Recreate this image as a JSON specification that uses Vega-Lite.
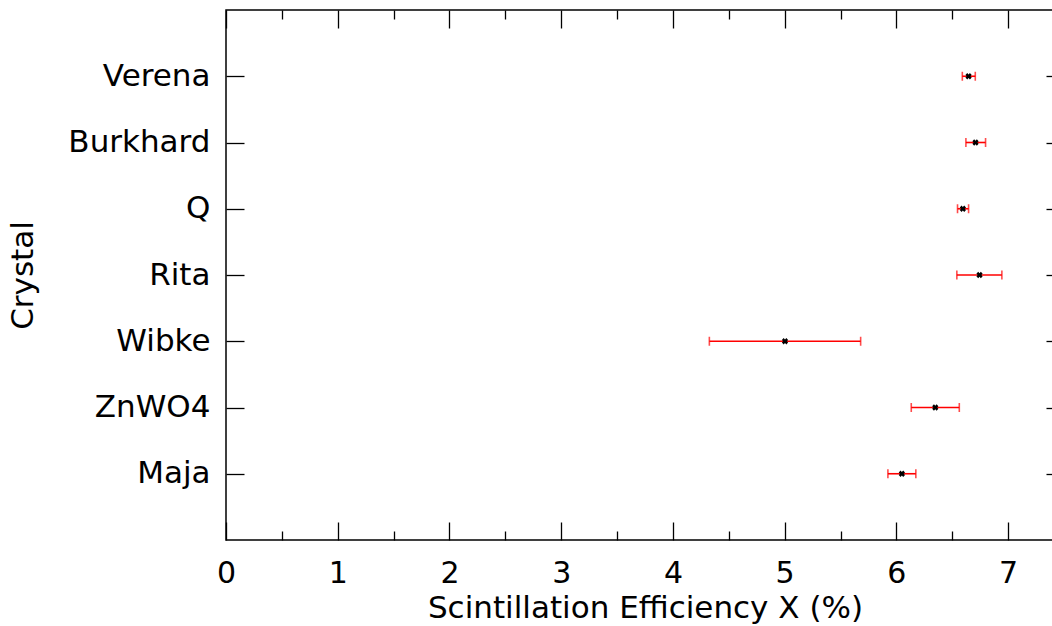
{
  "$schema": "https://vega.github.io/schema/vega-lite/v6.json",
  "autosize": "none",
  "width": 838,
  "height": 530,
  "padding": {"left": 226, "top": 10, "right": 0, "bottom": 86},
  "background": "white",
  "config": {
    "font": "DejaVu Sans",
    "view": {"stroke": "black", "strokeWidth": 1.5},
    "axis": {"grid": false, "domain": false, "tickColor": "black", "tickWidth": 1.3, "labelColor": "black", "titleColor": "black", "labelFont": "DejaVu Sans", "titleFont": "DejaVu Sans", "titleFontWeight": "normal"}
  },
  "data": {"values": [
    {"crystal": "Verena", "x": 6.646, "lo": 6.59, "hi": 6.706},
    {"crystal": "Burkhard", "x": 6.708, "lo": 6.622, "hi": 6.798},
    {"crystal": "Q", "x": 6.595, "lo": 6.547, "hi": 6.646},
    {"crystal": "Rita", "x": 6.744, "lo": 6.541, "hi": 6.944},
    {"crystal": "Wibke", "x": 5.003, "lo": 4.326, "hi": 5.68},
    {"crystal": "ZnWO4", "x": 6.348, "lo": 6.133, "hi": 6.563},
    {"crystal": "Maja", "x": 6.049, "lo": 5.924, "hi": 6.174}
  ]},
  "resolve": {"axis": {"x": "independent", "y": "independent"}},
  "layer": [
    {
      "mark": {"type": "rule", "color": "#ff0000", "strokeWidth": 1.6},
      "encoding": {
        "x": {"field": "lo", "type": "quantitative",
              "scale": {"domain": [0, 7.5], "nice": false, "zero": false},
              "axis": {"orient": "bottom", "values": [0,1,2,3,4,5,6,7], "tickSize": -18, "labelFontSize": 30, "labelPadding": 36, "labelFlush": false,
                       "title": "Scintillation Efficiency X (%)", "titleFontSize": 31, "titlePadding": 5}},
        "x2": {"field": "hi"},
        "y": {"field": "crystal", "type": "nominal",
              "sort": ["Verena", "Burkhard", "Q", "Rita", "Wibke", "ZnWO4", "Maja"],
              "scale": {"type": "point", "padding": 1},
              "axis": {"orient": "left", "tickSize": -18, "labelFontSize": 31, "labelPadding": 34, "title": "Crystal", "titleFontSize": 31, "titlePadding": 28}}
      }
    },
    {
      "mark": {"type": "tick", "color": "#ff0000", "thickness": 1.6, "size": 9},
      "encoding": {
        "x": {"field": "lo", "type": "quantitative",
              "axis": {"orient": "bottom", "values": [0.5,1.5,2.5,3.5,4.5,5.5,6.5,7.5], "tickSize": -9, "labels": false, "title": null}},
        "y": {"field": "crystal", "type": "nominal", "sort": ["Verena", "Burkhard", "Q", "Rita", "Wibke", "ZnWO4", "Maja"],
              "axis": {"orient": "right", "tickSize": -18, "labels": false, "title": null}}
      }
    },
    {
      "mark": {"type": "tick", "color": "#ff0000", "thickness": 1.6, "size": 9},
      "encoding": {
        "x": {"field": "hi", "type": "quantitative",
              "axis": {"orient": "top", "values": [0,1,2,3,4,5,6,7], "tickSize": -18, "labels": false, "title": null}},
        "y": {"field": "crystal", "type": "nominal", "sort": ["Verena", "Burkhard", "Q", "Rita", "Wibke", "ZnWO4", "Maja"], "axis": null}
      }
    },
    {
      "mark": {"type": "point", "shape": "cross", "angle": 45, "filled": true, "color": "black", "size": 40, "opacity": 1},
      "encoding": {
        "x": {"field": "x", "type": "quantitative",
              "axis": {"orient": "top", "values": [0.5,1.5,2.5,3.5,4.5,5.5,6.5,7.5], "tickSize": -9, "labels": false, "title": null}},
        "y": {"field": "crystal", "type": "nominal", "sort": ["Verena", "Burkhard", "Q", "Rita", "Wibke", "ZnWO4", "Maja"], "axis": null}
      }
    }
  ]
}
